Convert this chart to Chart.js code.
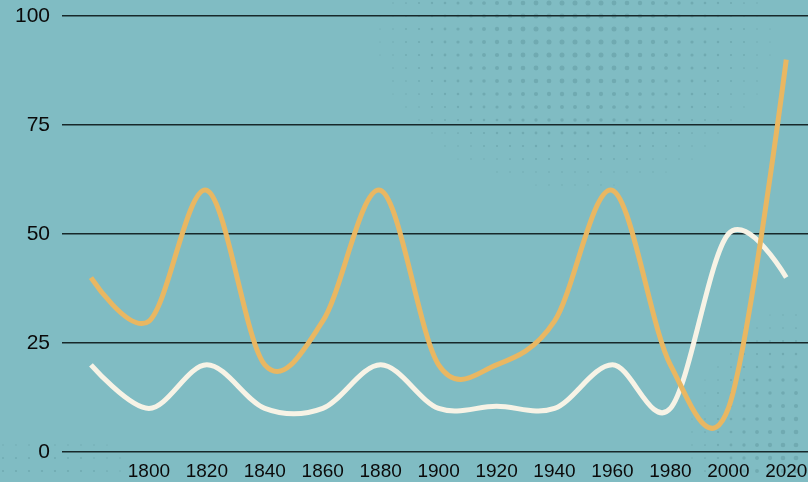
<!DOCTYPE html>
<html>
<head>
<meta charset="utf-8">
<script src="https://cdn.jsdelivr.net/npm/chart.js@4/dist/chart.umd.min.js"></script>
<style>
  html, body { margin: 0; padding: 0; background: #80bcc3; }
  #wrap { width: 808px; height: 482px; }
</style>
</head>
<body>
<div id="wrap"><canvas id="chart" width="808" height="482"></canvas></div>
<script>
// data
const years = [1780, 1800, 1820, 1840, 1860, 1880, 1900, 1920, 1940, 1960, 1980, 2000, 2020];
const orangeValues = [40, 30, 60, 20, 30, 60, 20, 20, 30, 60, 20, 10, 90];
const whiteValues = [20, 10, 20, 10, 10, 20, 10, 10.5, 10, 20, 10, 50, 40];
const xTickLabels = [1800, 1820, 1840, 1860, 1880, 1900, 1920, 1940, 1960, 1980, 2000, 2020];
const yTickLabels = [0, 25, 50, 75, 100];

const toPoints = vals => years.map((y, i) => ({ x: y, y: vals[i] }));
const FONT = "'Liberation Sans', Arial, sans-serif";

// background colour + halftone dots
const backdrop = {
    id: "backdrop",
    beforeDraw(chart) {
        const ctx = chart.ctx;
        ctx.save();
        ctx.fillStyle = "#80bcc3";
        ctx.fillRect(0, 0, chart.width, chart.height);
        const blobs = [
            { cx: 575, cy: 35, sx: 160, sy: 125, a: 1.1 },
            { cx: 800, cy: 450, sx: 95, sy: 120, a: 0.95 },
            { cx: 40, cy: 480, sx: 130, sy: 60, a: 0.45 }
        ];
        ctx.fillStyle = "#70aab1";
        const step = 13;
        for (let y = 3; y < chart.height; y += step) {
            for (let x = 3; x < chart.width; x += step) {
                let k = 0;
                blobs.forEach(b => {
                    const dx = (x - b.cx) / b.sx, dy = (y - b.cy) / b.sy;
                    k += b.a * Math.exp(-(dx * dx + dy * dy));
                });
                const r = Math.min(k, 1) * 2.5;
                if (r < 0.6) continue;
                ctx.beginPath();
                ctx.arc(x, y, r, 0, Math.PI * 2);
                ctx.fill();
            }
        }
        ctx.restore();
    }
};

// uniform catmull-rom curve through the points the library placed
const catmullRom = {
    id: "catmullRom",
    beforeDatasetsDraw(chart) {
        chart.data.datasets.forEach((ds, di) => {
            const meta = chart.getDatasetMeta(di);
            const pts = meta.data;
            const n = pts.length;
            pts.forEach((p, i) => {
                if (i === 0 || i === n - 1) {
                    p.cp1x = p.x; p.cp1y = p.y; p.cp2x = p.x; p.cp2y = p.y;
                    return;
                }
                const dx = (pts[i + 1].x - pts[i - 1].x) / 6;
                const dy = (pts[i + 1].y - pts[i - 1].y) / 6;
                p.cp1x = p.x - dx; p.cp1y = p.y - dy;
                p.cp2x = p.x + dx; p.cp2y = p.y + dy;
            });
            meta.dataset._pointsUpdated = true;
            meta.dataset._path = undefined;
        });
    }
};

new Chart(document.getElementById("chart"), {
    type: "line",
    data: {
        datasets: [
            {
                data: toPoints(orangeValues),
                borderColor: "#e9b762",
                borderWidth: 5,
                tension: 0.4,
                pointRadius: 0,
                fill: false
            },
            {
                data: toPoints(whiteValues),
                borderColor: "#f7f3e6",
                borderWidth: 5,
                tension: 0.4,
                pointRadius: 0,
                fill: false
            }
        ]
    },
    options: {
        responsive: false,
        animation: false,
        layout: { padding: { left: 0, top: 16, right: 0, bottom: 0 } },
        plugins: { legend: { display: false }, tooltip: { enabled: false } },
        scales: {
            x: {
                type: "linear",
                min: 1770,
                max: 2027.5,
                afterBuildTicks: axis => { axis.ticks = xTickLabels.map(v => ({ value: v })); },
                afterFit: axis => { axis.height = 30; axis.paddingLeft = 0; axis.paddingRight = 0; },
                grid: { display: false, drawTicks: false },
                border: { display: false },
                ticks: {
                    color: "#0a0a0a",
                    padding: 8,
                    font: { family: FONT, size: 19 },
                    callback: v => String(v),
                    maxRotation: 0,
                    autoSkip: false
                }
            },
            y: {
                min: 0,
                max: 100,
                afterBuildTicks: axis => { axis.ticks = yTickLabels.map(v => ({ value: v })); },
                afterFit: axis => { axis.width = 62; axis.paddingTop = 0; axis.paddingBottom = 0; },
                grid: { color: "#17282a", lineWidth: 1.6, drawTicks: false },
                border: { display: false },
                ticks: {
                    color: "#0a0a0a",
                    padding: 12,
                    font: { family: FONT, size: 21 },
                    callback: v => String(v)
                }
            }
        }
    },
    plugins: [backdrop, catmullRom]
});
</script>
</body>
</html>
